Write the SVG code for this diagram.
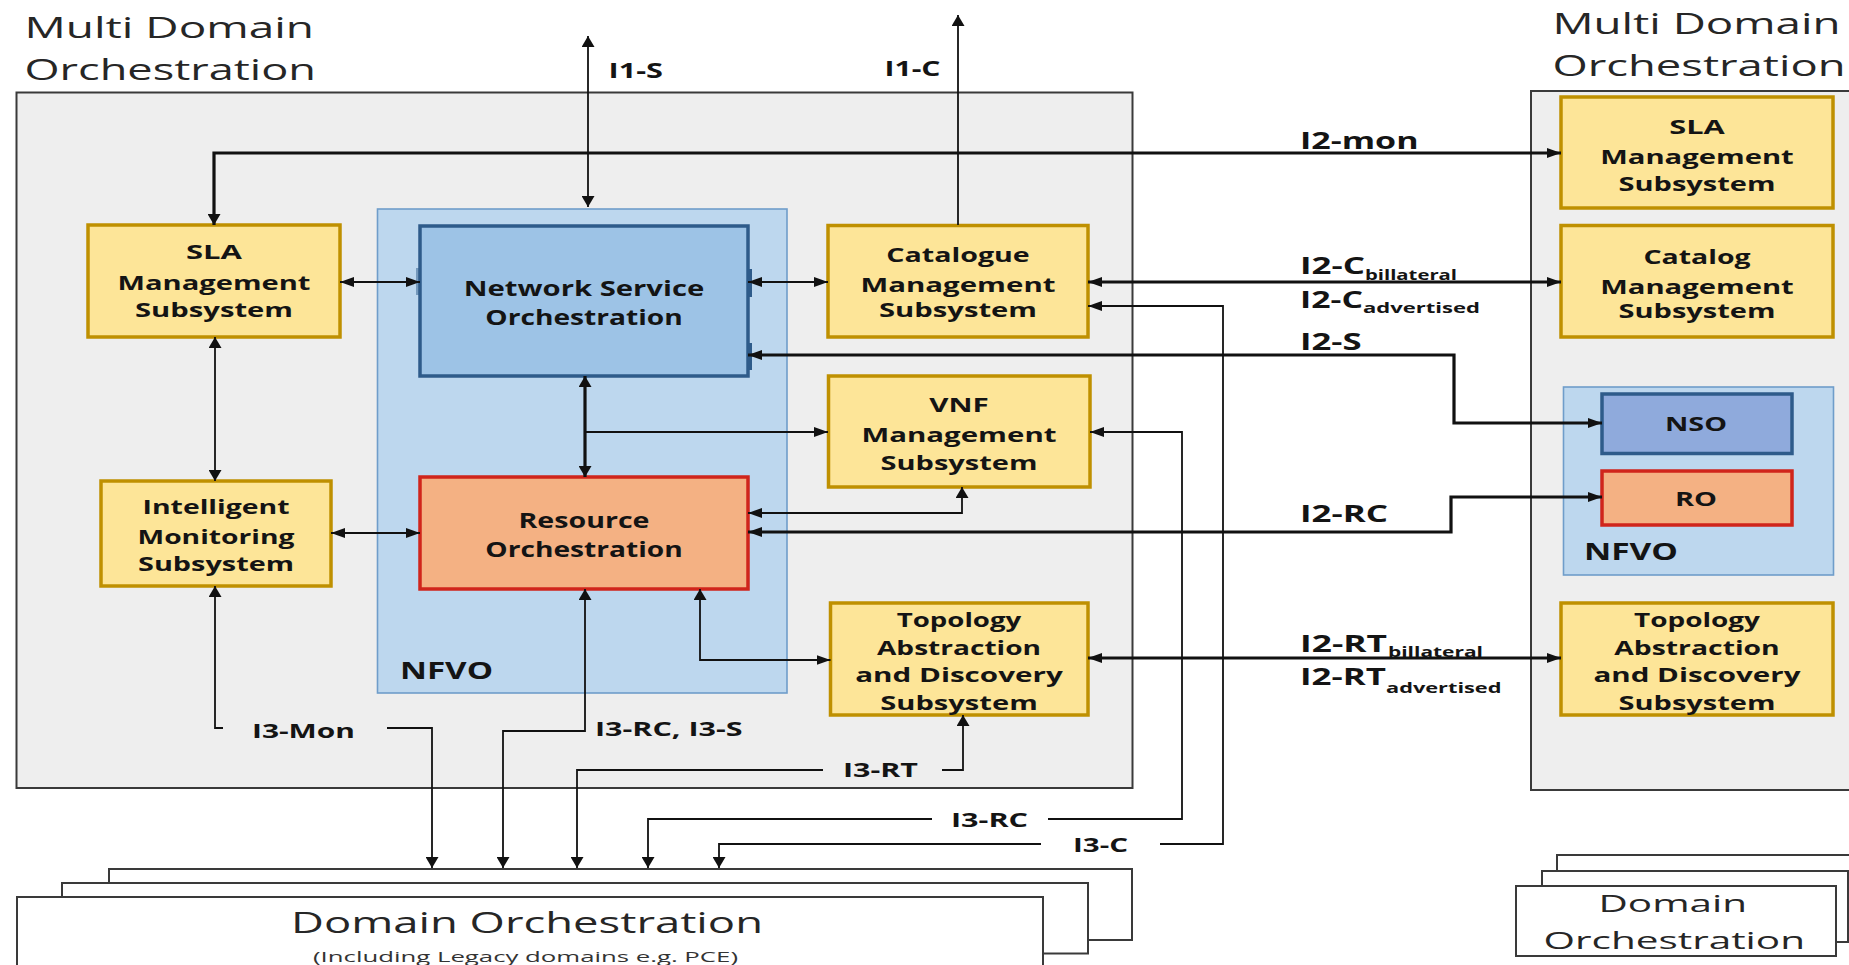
<svg xmlns="http://www.w3.org/2000/svg" width="1849" height="965" viewBox="0 0 1849 965">
  <style>
    text { font-family: "Open Sans", "Liberation Sans", sans-serif; fill: #141414; }
    .ttl { font-size: 29.5px; font-weight: 400; fill: #262626; }
    .b { font-weight: 700; font-size: 20px; }
    .bl { font-weight: 700; font-size: 21.5px; }
    .i1 { font-weight: 700; font-size: 21px; }
    .i2 { font-weight: 700; font-size: 22.5px; }
    .sub { font-weight: 700; font-size: 15px; }
    .i3 { font-weight: 700; font-size: 20px; }
    .nf { font-weight: 700; font-size: 23px; }
    .dt { font-size: 29px; font-weight: 400; fill: #262626; }
    .dr { font-size: 24px; font-weight: 400; fill: #262626; }
    .ds { font-size: 14.5px; font-weight: 400; fill: #333; }
    .outer { fill: #eeeeee; stroke: #3a3a3a; stroke-width: 2; }
    .panel { fill: #bdd7ee; stroke: #6f9dca; stroke-width: 1.6; }
    .y { fill: #fde598; stroke: #bf9000; stroke-width: 3.5; }
    .nso { fill: #9dc3e6; stroke: #2e5b8a; stroke-width: 3.5; }
    .nso2 { fill: #8faadc; stroke: #2e5b8a; stroke-width: 3.5; }
    .ro { fill: #f4b183; stroke: #d0251b; stroke-width: 3.5; }
    .dom { fill: #ffffff; stroke: #3a3a3a; stroke-width: 2; }
    .c { fill: none; stroke: #111; stroke-width: 1.8; }
    .k { fill: none; stroke: #111; stroke-width: 3.2; }
  </style>
  <defs>
    <!-- arrowheads: horizontal runs get a longer head, vertical runs a wider one -->
    <marker id="ah" markerUnits="userSpaceOnUse" viewBox="0 0 14 10" refX="14" refY="5" markerWidth="14" markerHeight="10" orient="auto-start-reverse">
      <path d="M0,0 L14,5 L0,10 z" fill="#111"/>
    </marker>
    <marker id="av" markerUnits="userSpaceOnUse" viewBox="0 0 11 13" refX="11" refY="6.5" markerWidth="11" markerHeight="13" orient="auto-start-reverse">
      <path d="M0,0 L11,6.5 L0,13 z" fill="#111"/>
    </marker>
  </defs>

  <!-- headings -->
  <g id="heading-left">
    <text class="ttl" x="24.5" y="37.5" textLength="289.5" lengthAdjust="spacingAndGlyphs">Multi Domain</text>
    <text class="ttl" x="24.5" y="79.5" textLength="291.5" lengthAdjust="spacingAndGlyphs">Orchestration</text>
  </g>
  <g id="heading-right">
    <text class="ttl" x="1552.5" y="33.5" textLength="288" lengthAdjust="spacingAndGlyphs">Multi Domain</text>
    <text class="ttl" x="1552.5" y="75.5" textLength="293" lengthAdjust="spacingAndGlyphs">Orchestration</text>
  </g>

  <!-- left multi-domain orchestrator -->
  <g id="mdo-left">
    <rect class="outer" x="16.5" y="92.5" width="1116" height="695.5"/>
  </g>
  <g id="nfvo-left">
    <rect class="panel" x="377.5" y="209" width="409.5" height="484"/>
    <text class="nf" x="400" y="678.5" textLength="93" lengthAdjust="spacingAndGlyphs">NFVO</text>
  </g>

  <g id="sla-left">
    <rect class="y" x="88" y="225" width="252" height="112"/>
    <text class="b" x="214" y="259" text-anchor="middle" textLength="56" lengthAdjust="spacingAndGlyphs">SLA</text>
    <text class="b" x="214" y="289.5" text-anchor="middle" textLength="193" lengthAdjust="spacingAndGlyphs">Management</text>
    <text class="b" x="214" y="317" text-anchor="middle" textLength="158" lengthAdjust="spacingAndGlyphs">Subsystem</text>
  </g>

  <g id="monitoring">
    <rect class="y" x="101" y="481" width="230" height="105"/>
    <text class="b" x="216" y="513.5" text-anchor="middle" textLength="147" lengthAdjust="spacingAndGlyphs">Intelligent</text>
    <text class="b" x="216" y="543.5" text-anchor="middle" textLength="157" lengthAdjust="spacingAndGlyphs">Monitoring</text>
    <text class="b" x="216" y="571" text-anchor="middle" textLength="156" lengthAdjust="spacingAndGlyphs">Subsystem</text>
  </g>

  <g id="nso">
    <rect class="nso" x="420" y="226" width="328" height="150"/>
    <rect x="748" y="269" width="4" height="28" fill="#2e5b8a"/>
    <rect x="748" y="343" width="4" height="27" fill="#2e5b8a"/>
    <rect x="416" y="268" width="4" height="27" fill="#2e5b8a" opacity="0.5"/>
    <text class="bl" x="584" y="296" text-anchor="middle" textLength="240.5" lengthAdjust="spacingAndGlyphs">Network Service</text>
    <text class="bl" x="584" y="325" text-anchor="middle" textLength="197.5" lengthAdjust="spacingAndGlyphs">Orchestration</text>
  </g>

  <g id="ro">
    <rect class="ro" x="420" y="477" width="328" height="112"/>
    <text class="bl" x="584" y="527.5" text-anchor="middle" textLength="131" lengthAdjust="spacingAndGlyphs">Resource</text>
    <text class="bl" x="584" y="556.5" text-anchor="middle" textLength="197.5" lengthAdjust="spacingAndGlyphs">Orchestration</text>
  </g>

  <g id="catalogue">
    <rect class="y" x="828" y="225.5" width="260" height="111.5"/>
    <text class="b" x="958" y="261.5" text-anchor="middle" textLength="143.5" lengthAdjust="spacingAndGlyphs">Catalogue</text>
    <text class="b" x="958" y="291.5" text-anchor="middle" textLength="195" lengthAdjust="spacingAndGlyphs">Management</text>
    <text class="b" x="958" y="316.5" text-anchor="middle" textLength="158" lengthAdjust="spacingAndGlyphs">Subsystem</text>
  </g>

  <g id="vnf">
    <rect class="y" x="828.5" y="376" width="261.5" height="111"/>
    <text class="b" x="959" y="411.5" text-anchor="middle" textLength="59.5" lengthAdjust="spacingAndGlyphs">VNF</text>
    <text class="b" x="959" y="441.5" text-anchor="middle" textLength="195" lengthAdjust="spacingAndGlyphs">Management</text>
    <text class="b" x="959" y="469.5" text-anchor="middle" textLength="157" lengthAdjust="spacingAndGlyphs">Subsystem</text>
  </g>

  <g id="topology-left">
    <rect class="y" x="830.5" y="603" width="257.5" height="112"/>
    <text class="b" x="959" y="626.5" text-anchor="middle" textLength="124.5" lengthAdjust="spacingAndGlyphs">Topology</text>
    <text class="b" x="959" y="654.5" text-anchor="middle" textLength="164" lengthAdjust="spacingAndGlyphs">Abstraction</text>
    <text class="b" x="959" y="682" text-anchor="middle" textLength="207.5" lengthAdjust="spacingAndGlyphs">and Discovery</text>
    <text class="b" x="959" y="709.5" text-anchor="middle" textLength="157.5" lengthAdjust="spacingAndGlyphs">Subsystem</text>
  </g>

  <!-- right multi-domain orchestrator -->
  <g id="mdo-right">
    <rect class="outer" x="1531" y="91" width="340" height="699"/>
  </g>

  <g id="sla-right">
    <rect class="y" x="1561" y="97" width="272" height="111"/>
    <text class="b" x="1697" y="133.5" text-anchor="middle" textLength="55.5" lengthAdjust="spacingAndGlyphs">SLA</text>
    <text class="b" x="1697" y="163.5" text-anchor="middle" textLength="193.5" lengthAdjust="spacingAndGlyphs">Management</text>
    <text class="b" x="1697" y="190.5" text-anchor="middle" textLength="157" lengthAdjust="spacingAndGlyphs">Subsystem</text>
  </g>

  <g id="catalog-right">
    <rect class="y" x="1561" y="225.5" width="272" height="111.5"/>
    <text class="b" x="1697" y="263.5" text-anchor="middle" textLength="107" lengthAdjust="spacingAndGlyphs">Catalog</text>
    <text class="b" x="1697" y="293.5" text-anchor="middle" textLength="193.5" lengthAdjust="spacingAndGlyphs">Management</text>
    <text class="b" x="1697" y="318" text-anchor="middle" textLength="157" lengthAdjust="spacingAndGlyphs">Subsystem</text>
  </g>

  <g id="nfvo-right">
    <rect class="panel" x="1563.5" y="387" width="270" height="188"/>
    <text class="nf" x="1584" y="560" textLength="94" lengthAdjust="spacingAndGlyphs">NFVO</text>
  </g>
  <g id="nso-right">
    <rect class="nso2" x="1602" y="394" width="190" height="59.5"/>
    <text class="b" x="1696" y="431" text-anchor="middle" textLength="62" lengthAdjust="spacingAndGlyphs">NSO</text>
  </g>
  <g id="ro-right">
    <rect class="ro" x="1602" y="471" width="190" height="54"/>
    <text class="b" x="1696" y="505.5" text-anchor="middle" textLength="42" lengthAdjust="spacingAndGlyphs">RO</text>
  </g>

  <g id="topology-right">
    <rect class="y" x="1561" y="603" width="272" height="112"/>
    <text class="b" x="1697" y="626.5" text-anchor="middle" textLength="126" lengthAdjust="spacingAndGlyphs">Topology</text>
    <text class="b" x="1697" y="654.5" text-anchor="middle" textLength="165.5" lengthAdjust="spacingAndGlyphs">Abstraction</text>
    <text class="b" x="1697" y="682" text-anchor="middle" textLength="207" lengthAdjust="spacingAndGlyphs">and Discovery</text>
    <text class="b" x="1697" y="709.5" text-anchor="middle" textLength="157" lengthAdjust="spacingAndGlyphs">Subsystem</text>
  </g>

  <!-- domain orchestrator stacks -->
  <g id="domain-left">
    <rect class="dom" x="109" y="869" width="1023" height="71"/>
    <rect class="dom" x="62" y="883" width="1026" height="70.5"/>
    <rect class="dom" x="17" y="897" width="1026" height="80"/>
    <text class="dt" x="291" y="932.5" textLength="472" lengthAdjust="spacingAndGlyphs">Domain Orchestration</text>
    <text class="ds" x="313" y="961.5" textLength="425" lengthAdjust="spacingAndGlyphs">(Including Legacy domains e.g. PCE)</text>
  </g>
  <g id="domain-right">
    <rect class="dom" x="1557" y="855" width="300" height="80"/>
    <rect class="dom" x="1542" y="871" width="306" height="71"/>
    <rect class="dom" x="1516" y="886" width="320" height="70"/>
    <text class="dr" x="1598.5" y="911.5" textLength="148.5" lengthAdjust="spacingAndGlyphs">Domain</text>
    <text class="dr" x="1543.5" y="948.5" textLength="261.5" lengthAdjust="spacingAndGlyphs">Orchestration</text>
  </g>

  <!-- connectors -->
  <g id="connectors">
    <path class="c" d="M340,282 H420" marker-start="url(#ah)" marker-end="url(#ah)"/>
    <path class="c" d="M748,282 H828" marker-start="url(#ah)" marker-end="url(#ah)"/>
    <path class="c" d="M215,337 V481" marker-start="url(#av)" marker-end="url(#av)"/>
    <path class="c" d="M331,533 H420" marker-start="url(#ah)" marker-end="url(#ah)"/>
    <path class="k" d="M585,376 V477" marker-start="url(#av)" marker-end="url(#av)"/>
    <path class="c" d="M585,432 H828" marker-end="url(#ah)"/>
    <path class="c" d="M962,487 V513 H748" marker-start="url(#av)" marker-end="url(#ah)"/>
    <path class="c" d="M700,589 V660 H830.5" marker-start="url(#av)" marker-end="url(#ah)"/>
    <path class="c" d="M588,36 V207" marker-start="url(#av)" marker-end="url(#av)"/>
    <path class="c" d="M958,225 V15" marker-end="url(#av)"/>
    <path class="k" d="M214,225 V153 H1561" marker-start="url(#av)" marker-end="url(#ah)"/>
    <path class="k" d="M1088,282 H1561" marker-start="url(#ah)" marker-end="url(#ah)"/>
    <path class="k" d="M748,355 H1454 V423 H1602" marker-start="url(#ah)" marker-end="url(#ah)"/>
    <path class="k" d="M748,532 H1451 V497 H1602" marker-start="url(#ah)" marker-end="url(#ah)"/>
    <path class="k" d="M1088,658 H1561" marker-start="url(#ah)" marker-end="url(#ah)"/>
    <path class="c" d="M1088,306 H1223 V844 H1160" marker-start="url(#ah)"/>
    <path class="c" d="M1041,844 H719 V868" marker-end="url(#av)"/>
    <path class="c" d="M1090,432 H1182 V819 H1048" marker-start="url(#ah)"/>
    <path class="c" d="M932,819 H648 V868" marker-end="url(#av)"/>
    <path class="c" d="M963,715 V770 H942" marker-start="url(#av)"/>
    <path class="c" d="M823,770 H577 V868" marker-end="url(#av)"/>
    <path class="c" d="M585,589 V731 H503 V868" marker-start="url(#av)" marker-end="url(#av)"/>
    <path class="c" d="M215,586 V728 H223" marker-start="url(#av)"/>
    <path class="c" d="M387,728 H432 V868" marker-end="url(#av)"/>
  </g>

  <!-- interface labels -->
  <g id="interface-labels">
    <text class="i1" x="608.5" y="77.5" textLength="54.5" lengthAdjust="spacingAndGlyphs">I1-S</text>
    <text class="i1" x="884.5" y="76" textLength="56" lengthAdjust="spacingAndGlyphs">I1-C</text>
    <text class="i2" x="1300" y="148.5" textLength="118.5" lengthAdjust="spacingAndGlyphs">I2-mon</text>
    <text class="i2" x="1300" y="274" textLength="65" lengthAdjust="spacingAndGlyphs">I2-C</text>
    <text class="sub" x="1365" y="279.5" textLength="92" lengthAdjust="spacingAndGlyphs">billateral</text>
    <text class="i2" x="1300" y="307.5" textLength="63" lengthAdjust="spacingAndGlyphs">I2-C</text>
    <text class="sub" x="1363" y="313" textLength="117" lengthAdjust="spacingAndGlyphs">advertised</text>
    <text class="i2" x="1300" y="350" textLength="61.5" lengthAdjust="spacingAndGlyphs">I2-S</text>
    <text class="i2" x="1300" y="521.5" textLength="88" lengthAdjust="spacingAndGlyphs">I2-RC</text>
    <text class="i2" x="1300" y="651.5" textLength="87" lengthAdjust="spacingAndGlyphs">I2-RT</text>
    <text class="sub" x="1388" y="657" textLength="95" lengthAdjust="spacingAndGlyphs">billateral</text>
    <text class="i2" x="1300" y="685" textLength="86" lengthAdjust="spacingAndGlyphs">I2-RT</text>
    <text class="sub" x="1386" y="692.5" textLength="115.5" lengthAdjust="spacingAndGlyphs">advertised</text>
    <text class="i3" x="252" y="737.5" textLength="103" lengthAdjust="spacingAndGlyphs">I3-Mon</text>
    <text class="i3" x="595" y="736" textLength="147.5" lengthAdjust="spacingAndGlyphs">I3-RC, I3-S</text>
    <text class="i3" x="843" y="776.5" textLength="75" lengthAdjust="spacingAndGlyphs">I3-RT</text>
    <text class="i3" x="951" y="826.5" textLength="77" lengthAdjust="spacingAndGlyphs">I3-RC</text>
    <text class="i3" x="1073" y="851.5" textLength="55" lengthAdjust="spacingAndGlyphs">I3-C</text>
  </g>
</svg>
